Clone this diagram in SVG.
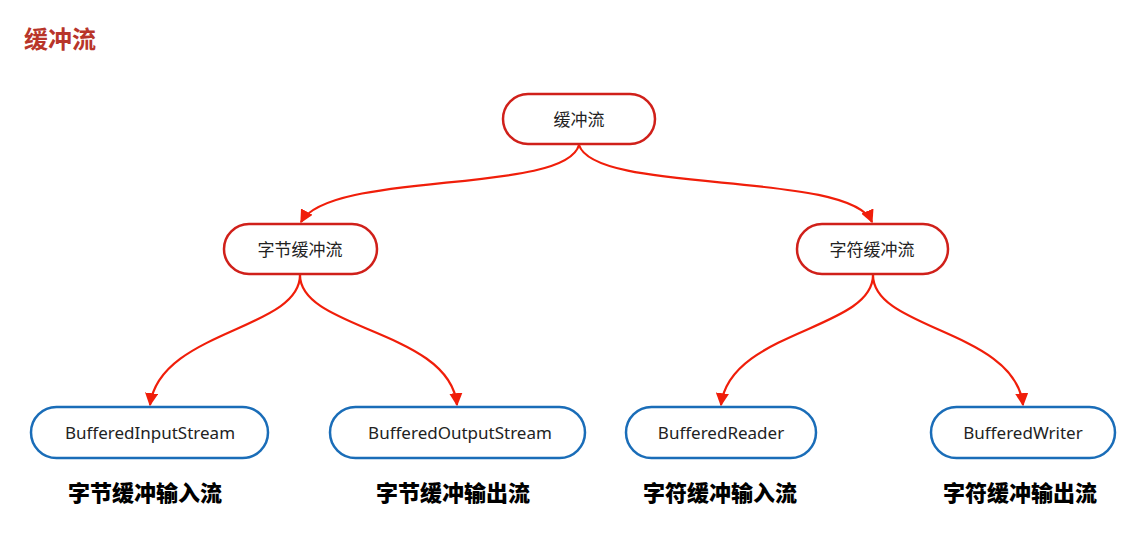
<svg xmlns="http://www.w3.org/2000/svg" width="1142" height="551" viewBox="0 0 1142 551">
<style>
.r{fill:#fff;stroke:#d0201a;stroke-width:2.5}
.b{fill:#fff;stroke:#1a6db8;stroke-width:2.5}
.t{font-family:"Noto Sans","Noto Sans CJK SC",sans-serif;font-size:17px;fill:#222;text-anchor:middle;dominant-baseline:central}
.l{font-family:"Noto Sans CJK SC",sans-serif;font-size:22px;font-weight:900;fill:#000;text-anchor:middle}
.c{fill:none;stroke:#f01e0a;stroke-width:2.2;marker-end:url(#a)}
</style>
<defs><marker id="a" viewBox="0 0 10 10" refX="9" refY="5" markerWidth="6" markerHeight="6" orient="auto"><path d="M0,0 L10,5 L0,10 z" fill="#f01e0a"/></marker></defs>
<text x="24" y="48" font-family="Noto Sans CJK SC,sans-serif" font-size="24" font-weight="bold" fill="#b8352a">缓冲流</text>
<g id="connectors">
<path class="c" d="M579,145 C565,195 330,170 301,222"/>
<path class="c" d="M579,145 C595,195 850,170 872,222"/>
<path class="c" d="M300,275 C300,330 160,330 150,405"/>
<path class="c" d="M300,275 C300,330 450,330 457,405"/>
<path class="c" d="M873,275 C873,330 730,330 721,405"/>
<path class="c" d="M873,275 C873,330 1015,330 1023,405"/>
</g>
<g id="root"><rect class="r" x="503" y="94" width="152" height="50" rx="25"/><text class="t" x="579" y="119">缓冲流</text></g>
<g id="byte"><rect class="r" x="224" y="224" width="153" height="50" rx="25"/><text class="t" x="300" y="249">字节缓冲流</text></g>
<g id="char"><rect class="r" x="797" y="224" width="151" height="50" rx="25"/><text class="t" x="872" y="249">字符缓冲流</text></g>
<g id="bis"><rect class="b" x="31" y="407" width="237" height="51" rx="25.5"/><text class="t" x="150" y="432">BufferedInputStream</text><text class="l" x="145" y="501">字节缓冲输入流</text></g>
<g id="bos"><rect class="b" x="330" y="407" width="255" height="51" rx="25.5"/><text class="t" x="460" y="432">BufferedOutputStream</text><text class="l" x="453" y="501">字节缓冲输出流</text></g>
<g id="br"><rect class="b" x="626" y="407" width="190" height="51" rx="25.5"/><text class="t" x="721" y="432">BufferedReader</text><text class="l" x="720" y="501">字符缓冲输入流</text></g>
<g id="bw"><rect class="b" x="931" y="407" width="184" height="51" rx="25.5"/><text class="t" x="1023" y="432">BufferedWriter</text><text class="l" x="1020" y="501">字符缓冲输出流</text></g>
</svg>
